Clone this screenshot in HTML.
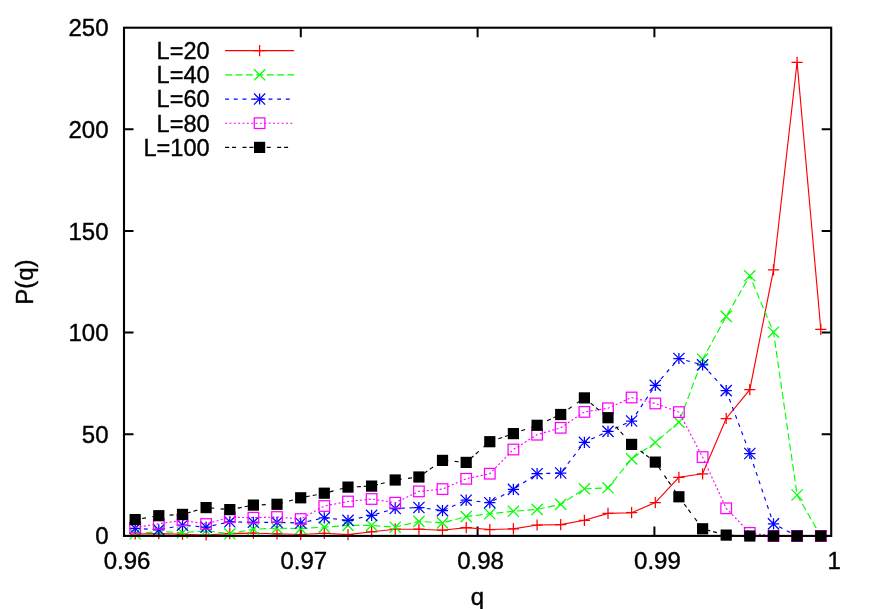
<!DOCTYPE html>
<html><head><meta charset="utf-8"><title>P(q)</title>
<style>
html,body{margin:0;padding:0;background:#fff;}
body{width:872px;height:609px;overflow:hidden;}
svg{display:block;}
text{font-family:"Liberation Sans",sans-serif;font-size:24.5px;fill:#000;stroke:#000;stroke-width:0.4px;}
</style></head><body>
<svg style="will-change:transform" width="872" height="609" viewBox="0 0 872 609">
<rect width="872" height="609" fill="#fff"/>

<g fill="none" stroke="#000" stroke-width="2">
<path d="M300.8,535.9v-9.5M300.8,27.7v9.5"/>
<path d="M477.6,535.9v-9.5M477.6,27.7v9.5"/>
<path d="M654.4,535.9v-9.5M654.4,27.7v9.5"/>
<path d="M124.0,434.3h9.5M831.2,434.3h-9.5"/>
<path d="M124.0,332.6h9.5M831.2,332.6h-9.5"/>
<path d="M124.0,231.0h9.5M831.2,231.0h-9.5"/>
<path d="M124.0,129.3h9.5M831.2,129.3h-9.5"/>
</g>
<g fill="none" stroke-width="1.15">
<polyline points="135.2,534.0 158.8,533.6 182.5,534.2 206.1,535.0 229.8,533.6 253.4,533.2 277.0,533.8 300.7,534.5 324.3,533.3 348.0,534.6 371.6,531.8 395.2,529.2 418.9,529.2 442.5,530.2 466.2,527.7 489.8,529.5 513.4,528.9 537.1,525.0 560.7,524.6 584.4,520.3 608.0,513.4 631.6,512.7 655.3,502.6 678.9,477.3 702.6,473.8 726.2,418.5 749.8,389.7 773.5,269.8 797.1,62.3 820.8,329.3" stroke="#ff0000"/>
<path d="M129.6,534.0H140.8M135.2,528.4V539.6" stroke="#ff0000" stroke-width="1.25"/>
<path d="M153.2,533.6H164.4M158.8,528.0V539.2" stroke="#ff0000" stroke-width="1.25"/>
<path d="M176.9,534.2H188.1M182.5,528.6V539.8" stroke="#ff0000" stroke-width="1.25"/>
<path d="M200.5,535.0H211.7M206.1,529.4V540.6" stroke="#ff0000" stroke-width="1.25"/>
<path d="M224.2,533.6H235.4M229.8,528.0V539.2" stroke="#ff0000" stroke-width="1.25"/>
<path d="M247.8,533.2H259.0M253.4,527.6V538.8" stroke="#ff0000" stroke-width="1.25"/>
<path d="M271.4,533.8H282.6M277.0,528.2V539.4" stroke="#ff0000" stroke-width="1.25"/>
<path d="M295.1,534.5H306.3M300.7,528.9V540.1" stroke="#ff0000" stroke-width="1.25"/>
<path d="M318.7,533.3H329.9M324.3,527.7V538.9" stroke="#ff0000" stroke-width="1.25"/>
<path d="M342.4,534.6H353.6M348.0,529.0V540.2" stroke="#ff0000" stroke-width="1.25"/>
<path d="M366.0,531.8H377.2M371.6,526.2V537.4" stroke="#ff0000" stroke-width="1.25"/>
<path d="M389.6,529.2H400.8M395.2,523.6V534.8" stroke="#ff0000" stroke-width="1.25"/>
<path d="M413.3,529.2H424.5M418.9,523.6V534.8" stroke="#ff0000" stroke-width="1.25"/>
<path d="M436.9,530.2H448.1M442.5,524.6V535.8" stroke="#ff0000" stroke-width="1.25"/>
<path d="M460.6,527.7H471.8M466.2,522.1V533.3" stroke="#ff0000" stroke-width="1.25"/>
<path d="M484.2,529.5H495.4M489.8,523.9V535.1" stroke="#ff0000" stroke-width="1.25"/>
<path d="M507.8,528.9H519.0M513.4,523.3V534.5" stroke="#ff0000" stroke-width="1.25"/>
<path d="M531.5,525.0H542.7M537.1,519.4V530.6" stroke="#ff0000" stroke-width="1.25"/>
<path d="M555.1,524.6H566.3M560.7,519.0V530.2" stroke="#ff0000" stroke-width="1.25"/>
<path d="M578.8,520.3H590.0M584.4,514.7V525.9" stroke="#ff0000" stroke-width="1.25"/>
<path d="M602.4,513.4H613.6M608.0,507.8V519.0" stroke="#ff0000" stroke-width="1.25"/>
<path d="M626.0,512.7H637.2M631.6,507.1V518.3" stroke="#ff0000" stroke-width="1.25"/>
<path d="M649.7,502.6H660.9M655.3,497.0V508.2" stroke="#ff0000" stroke-width="1.25"/>
<path d="M673.3,477.3H684.5M678.9,471.7V482.9" stroke="#ff0000" stroke-width="1.25"/>
<path d="M697.0,473.8H708.2M702.6,468.2V479.4" stroke="#ff0000" stroke-width="1.25"/>
<path d="M720.6,418.5H731.8M726.2,412.9V424.1" stroke="#ff0000" stroke-width="1.25"/>
<path d="M744.2,389.7H755.4M749.8,384.1V395.3" stroke="#ff0000" stroke-width="1.25"/>
<path d="M767.9,269.8H779.1M773.5,264.2V275.4" stroke="#ff0000" stroke-width="1.25"/>
<path d="M791.5,62.3H802.7M797.1,56.7V67.9" stroke="#ff0000" stroke-width="1.25"/>
<path d="M815.2,329.3H826.4M820.8,323.7V334.9" stroke="#ff0000" stroke-width="1.25"/>
<polyline points="135.2,533.8 158.8,531.5 182.5,532.8 206.1,530.7 229.8,533.8 253.4,529.2 277.0,528.2 300.7,528.6 324.3,527.1 348.0,525.4 371.6,525.4 395.2,527.2 418.9,521.4 442.5,522.9 466.2,516.6 489.8,513.8 513.4,511.3 537.1,509.4 560.7,504.4 584.4,488.8 608.0,487.8 631.6,458.9 655.3,442.5 678.9,422.2 702.6,359.2 726.2,316.4 749.8,275.8 773.5,332.2 797.1,495.0 820.8,536.0" stroke="#00ff00" stroke-dasharray="7,3.4"/>
<path d="M129.6,528.2L140.8,539.4M129.6,539.4L140.8,528.2" stroke="#00ff00" stroke-width="1.25"/>
<path d="M153.2,525.9L164.4,537.1M153.2,537.1L164.4,525.9" stroke="#00ff00" stroke-width="1.25"/>
<path d="M176.9,527.2L188.1,538.4M176.9,538.4L188.1,527.2" stroke="#00ff00" stroke-width="1.25"/>
<path d="M200.5,525.1L211.7,536.3M200.5,536.3L211.7,525.1" stroke="#00ff00" stroke-width="1.25"/>
<path d="M224.2,528.2L235.4,539.4M224.2,539.4L235.4,528.2" stroke="#00ff00" stroke-width="1.25"/>
<path d="M247.8,523.6L259.0,534.8M247.8,534.8L259.0,523.6" stroke="#00ff00" stroke-width="1.25"/>
<path d="M271.4,522.6L282.6,533.8M271.4,533.8L282.6,522.6" stroke="#00ff00" stroke-width="1.25"/>
<path d="M295.1,523.0L306.3,534.2M295.1,534.2L306.3,523.0" stroke="#00ff00" stroke-width="1.25"/>
<path d="M318.7,521.5L329.9,532.7M318.7,532.7L329.9,521.5" stroke="#00ff00" stroke-width="1.25"/>
<path d="M342.4,519.8L353.6,531.0M342.4,531.0L353.6,519.8" stroke="#00ff00" stroke-width="1.25"/>
<path d="M366.0,519.8L377.2,531.0M366.0,531.0L377.2,519.8" stroke="#00ff00" stroke-width="1.25"/>
<path d="M389.6,521.6L400.8,532.8M389.6,532.8L400.8,521.6" stroke="#00ff00" stroke-width="1.25"/>
<path d="M413.3,515.8L424.5,527.0M413.3,527.0L424.5,515.8" stroke="#00ff00" stroke-width="1.25"/>
<path d="M436.9,517.3L448.1,528.5M436.9,528.5L448.1,517.3" stroke="#00ff00" stroke-width="1.25"/>
<path d="M460.6,511.0L471.8,522.2M460.6,522.2L471.8,511.0" stroke="#00ff00" stroke-width="1.25"/>
<path d="M484.2,508.2L495.4,519.4M484.2,519.4L495.4,508.2" stroke="#00ff00" stroke-width="1.25"/>
<path d="M507.8,505.7L519.0,516.9M507.8,516.9L519.0,505.7" stroke="#00ff00" stroke-width="1.25"/>
<path d="M531.5,503.8L542.7,515.0M531.5,515.0L542.7,503.8" stroke="#00ff00" stroke-width="1.25"/>
<path d="M555.1,498.8L566.3,510.0M555.1,510.0L566.3,498.8" stroke="#00ff00" stroke-width="1.25"/>
<path d="M578.8,483.2L590.0,494.4M578.8,494.4L590.0,483.2" stroke="#00ff00" stroke-width="1.25"/>
<path d="M602.4,482.2L613.6,493.4M602.4,493.4L613.6,482.2" stroke="#00ff00" stroke-width="1.25"/>
<path d="M626.0,453.3L637.2,464.5M626.0,464.5L637.2,453.3" stroke="#00ff00" stroke-width="1.25"/>
<path d="M649.7,436.9L660.9,448.1M649.7,448.1L660.9,436.9" stroke="#00ff00" stroke-width="1.25"/>
<path d="M673.3,416.6L684.5,427.8M673.3,427.8L684.5,416.6" stroke="#00ff00" stroke-width="1.25"/>
<path d="M697.0,353.6L708.2,364.8M697.0,364.8L708.2,353.6" stroke="#00ff00" stroke-width="1.25"/>
<path d="M720.6,310.8L731.8,322.0M720.6,322.0L731.8,310.8" stroke="#00ff00" stroke-width="1.25"/>
<path d="M744.2,270.2L755.4,281.4M744.2,281.4L755.4,270.2" stroke="#00ff00" stroke-width="1.25"/>
<path d="M767.9,326.6L779.1,337.8M767.9,337.8L779.1,326.6" stroke="#00ff00" stroke-width="1.25"/>
<path d="M791.5,489.4L802.7,500.6M791.5,500.6L802.7,489.4" stroke="#00ff00" stroke-width="1.25"/>
<path d="M815.2,530.4L826.4,541.6M815.2,541.6L826.4,530.4" stroke="#00ff00" stroke-width="1.25"/>
<polyline points="135.2,528.3 158.8,529.8 182.5,525.2 206.1,527.1 229.8,521.8 253.4,522.3 277.0,522.3 300.7,523.0 324.3,517.8 348.0,520.4 371.6,515.4 395.2,508.5 418.9,507.5 442.5,510.6 466.2,500.2 489.8,502.7 513.4,489.4 537.1,473.7 560.7,473.0 584.4,442.3 608.0,431.4 631.6,421.0 655.3,385.4 678.9,358.5 702.6,364.9 726.2,390.6 749.8,453.5 773.5,523.9 797.1,536.0 820.8,536.0" stroke="#0000ff" stroke-dasharray="3.9,4.78"/>
<path d="M129.6,528.3H140.8M135.2,522.7V533.9" stroke="#0000ff" stroke-width="1.25"/><path d="M129.6,522.7L140.8,533.9M129.6,533.9L140.8,522.7" stroke="#0000ff" stroke-width="1.25"/>
<path d="M153.2,529.8H164.4M158.8,524.2V535.4" stroke="#0000ff" stroke-width="1.25"/><path d="M153.2,524.2L164.4,535.4M153.2,535.4L164.4,524.2" stroke="#0000ff" stroke-width="1.25"/>
<path d="M176.9,525.2H188.1M182.5,519.6V530.8" stroke="#0000ff" stroke-width="1.25"/><path d="M176.9,519.6L188.1,530.8M176.9,530.8L188.1,519.6" stroke="#0000ff" stroke-width="1.25"/>
<path d="M200.5,527.1H211.7M206.1,521.5V532.7" stroke="#0000ff" stroke-width="1.25"/><path d="M200.5,521.5L211.7,532.7M200.5,532.7L211.7,521.5" stroke="#0000ff" stroke-width="1.25"/>
<path d="M224.2,521.8H235.4M229.8,516.2V527.4" stroke="#0000ff" stroke-width="1.25"/><path d="M224.2,516.2L235.4,527.4M224.2,527.4L235.4,516.2" stroke="#0000ff" stroke-width="1.25"/>
<path d="M247.8,522.3H259.0M253.4,516.7V527.9" stroke="#0000ff" stroke-width="1.25"/><path d="M247.8,516.7L259.0,527.9M247.8,527.9L259.0,516.7" stroke="#0000ff" stroke-width="1.25"/>
<path d="M271.4,522.3H282.6M277.0,516.7V527.9" stroke="#0000ff" stroke-width="1.25"/><path d="M271.4,516.7L282.6,527.9M271.4,527.9L282.6,516.7" stroke="#0000ff" stroke-width="1.25"/>
<path d="M295.1,523.0H306.3M300.7,517.4V528.6" stroke="#0000ff" stroke-width="1.25"/><path d="M295.1,517.4L306.3,528.6M295.1,528.6L306.3,517.4" stroke="#0000ff" stroke-width="1.25"/>
<path d="M318.7,517.8H329.9M324.3,512.2V523.4" stroke="#0000ff" stroke-width="1.25"/><path d="M318.7,512.2L329.9,523.4M318.7,523.4L329.9,512.2" stroke="#0000ff" stroke-width="1.25"/>
<path d="M342.4,520.4H353.6M348.0,514.8V526.0" stroke="#0000ff" stroke-width="1.25"/><path d="M342.4,514.8L353.6,526.0M342.4,526.0L353.6,514.8" stroke="#0000ff" stroke-width="1.25"/>
<path d="M366.0,515.4H377.2M371.6,509.8V521.0" stroke="#0000ff" stroke-width="1.25"/><path d="M366.0,509.8L377.2,521.0M366.0,521.0L377.2,509.8" stroke="#0000ff" stroke-width="1.25"/>
<path d="M389.6,508.5H400.8M395.2,502.9V514.1" stroke="#0000ff" stroke-width="1.25"/><path d="M389.6,502.9L400.8,514.1M389.6,514.1L400.8,502.9" stroke="#0000ff" stroke-width="1.25"/>
<path d="M413.3,507.5H424.5M418.9,501.9V513.1" stroke="#0000ff" stroke-width="1.25"/><path d="M413.3,501.9L424.5,513.1M413.3,513.1L424.5,501.9" stroke="#0000ff" stroke-width="1.25"/>
<path d="M436.9,510.6H448.1M442.5,505.0V516.2" stroke="#0000ff" stroke-width="1.25"/><path d="M436.9,505.0L448.1,516.2M436.9,516.2L448.1,505.0" stroke="#0000ff" stroke-width="1.25"/>
<path d="M460.6,500.2H471.8M466.2,494.6V505.8" stroke="#0000ff" stroke-width="1.25"/><path d="M460.6,494.6L471.8,505.8M460.6,505.8L471.8,494.6" stroke="#0000ff" stroke-width="1.25"/>
<path d="M484.2,502.7H495.4M489.8,497.1V508.3" stroke="#0000ff" stroke-width="1.25"/><path d="M484.2,497.1L495.4,508.3M484.2,508.3L495.4,497.1" stroke="#0000ff" stroke-width="1.25"/>
<path d="M507.8,489.4H519.0M513.4,483.8V495.0" stroke="#0000ff" stroke-width="1.25"/><path d="M507.8,483.8L519.0,495.0M507.8,495.0L519.0,483.8" stroke="#0000ff" stroke-width="1.25"/>
<path d="M531.5,473.7H542.7M537.1,468.1V479.3" stroke="#0000ff" stroke-width="1.25"/><path d="M531.5,468.1L542.7,479.3M531.5,479.3L542.7,468.1" stroke="#0000ff" stroke-width="1.25"/>
<path d="M555.1,473.0H566.3M560.7,467.4V478.6" stroke="#0000ff" stroke-width="1.25"/><path d="M555.1,467.4L566.3,478.6M555.1,478.6L566.3,467.4" stroke="#0000ff" stroke-width="1.25"/>
<path d="M578.8,442.3H590.0M584.4,436.7V447.9" stroke="#0000ff" stroke-width="1.25"/><path d="M578.8,436.7L590.0,447.9M578.8,447.9L590.0,436.7" stroke="#0000ff" stroke-width="1.25"/>
<path d="M602.4,431.4H613.6M608.0,425.8V437.0" stroke="#0000ff" stroke-width="1.25"/><path d="M602.4,425.8L613.6,437.0M602.4,437.0L613.6,425.8" stroke="#0000ff" stroke-width="1.25"/>
<path d="M626.0,421.0H637.2M631.6,415.4V426.6" stroke="#0000ff" stroke-width="1.25"/><path d="M626.0,415.4L637.2,426.6M626.0,426.6L637.2,415.4" stroke="#0000ff" stroke-width="1.25"/>
<path d="M649.7,385.4H660.9M655.3,379.8V391.0" stroke="#0000ff" stroke-width="1.25"/><path d="M649.7,379.8L660.9,391.0M649.7,391.0L660.9,379.8" stroke="#0000ff" stroke-width="1.25"/>
<path d="M673.3,358.5H684.5M678.9,352.9V364.1" stroke="#0000ff" stroke-width="1.25"/><path d="M673.3,352.9L684.5,364.1M673.3,364.1L684.5,352.9" stroke="#0000ff" stroke-width="1.25"/>
<path d="M697.0,364.9H708.2M702.6,359.3V370.5" stroke="#0000ff" stroke-width="1.25"/><path d="M697.0,359.3L708.2,370.5M697.0,370.5L708.2,359.3" stroke="#0000ff" stroke-width="1.25"/>
<path d="M720.6,390.6H731.8M726.2,385.0V396.2" stroke="#0000ff" stroke-width="1.25"/><path d="M720.6,385.0L731.8,396.2M720.6,396.2L731.8,385.0" stroke="#0000ff" stroke-width="1.25"/>
<path d="M744.2,453.5H755.4M749.8,447.9V459.1" stroke="#0000ff" stroke-width="1.25"/><path d="M744.2,447.9L755.4,459.1M744.2,459.1L755.4,447.9" stroke="#0000ff" stroke-width="1.25"/>
<path d="M767.9,523.9H779.1M773.5,518.3V529.5" stroke="#0000ff" stroke-width="1.25"/><path d="M767.9,518.3L779.1,529.5M767.9,529.5L779.1,518.3" stroke="#0000ff" stroke-width="1.25"/>
<path d="M791.5,536.0H802.7M797.1,530.4V541.6" stroke="#0000ff" stroke-width="1.25"/><path d="M791.5,530.4L802.7,541.6M791.5,541.6L802.7,530.4" stroke="#0000ff" stroke-width="1.25"/>
<path d="M815.2,536.0H826.4M820.8,530.4V541.6" stroke="#0000ff" stroke-width="1.25"/><path d="M815.2,530.4L826.4,541.6M815.2,541.6L826.4,530.4" stroke="#0000ff" stroke-width="1.25"/>
<polyline points="135.2,527.5 158.8,523.8 182.5,520.3 206.1,524.0 229.8,517.2 253.4,517.7 277.0,517.0 300.7,519.0 324.3,506.0 348.0,501.5 371.6,499.0 395.2,502.7 418.9,491.4 442.5,489.1 466.2,478.8 489.8,473.7 513.4,449.5 537.1,434.7 560.7,427.8 584.4,411.9 608.0,408.3 631.6,397.5 655.3,403.5 678.9,412.1 702.6,457.1 726.2,508.3 749.8,532.9 773.5,536.0 797.1,536.0 820.8,536.0" stroke="#ff00ff" stroke-dasharray="2.0,2.35"/>
<rect x="129.9" y="522.2" width="10.6" height="10.6" fill="none" stroke="#ff00ff" stroke-width="1.25"/>
<rect x="153.5" y="518.5" width="10.6" height="10.6" fill="none" stroke="#ff00ff" stroke-width="1.25"/>
<rect x="177.2" y="515.0" width="10.6" height="10.6" fill="none" stroke="#ff00ff" stroke-width="1.25"/>
<rect x="200.8" y="518.7" width="10.6" height="10.6" fill="none" stroke="#ff00ff" stroke-width="1.25"/>
<rect x="224.5" y="511.9" width="10.6" height="10.6" fill="none" stroke="#ff00ff" stroke-width="1.25"/>
<rect x="248.1" y="512.4" width="10.6" height="10.6" fill="none" stroke="#ff00ff" stroke-width="1.25"/>
<rect x="271.7" y="511.7" width="10.6" height="10.6" fill="none" stroke="#ff00ff" stroke-width="1.25"/>
<rect x="295.4" y="513.7" width="10.6" height="10.6" fill="none" stroke="#ff00ff" stroke-width="1.25"/>
<rect x="319.0" y="500.7" width="10.6" height="10.6" fill="none" stroke="#ff00ff" stroke-width="1.25"/>
<rect x="342.7" y="496.2" width="10.6" height="10.6" fill="none" stroke="#ff00ff" stroke-width="1.25"/>
<rect x="366.3" y="493.7" width="10.6" height="10.6" fill="none" stroke="#ff00ff" stroke-width="1.25"/>
<rect x="389.9" y="497.4" width="10.6" height="10.6" fill="none" stroke="#ff00ff" stroke-width="1.25"/>
<rect x="413.6" y="486.1" width="10.6" height="10.6" fill="none" stroke="#ff00ff" stroke-width="1.25"/>
<rect x="437.2" y="483.8" width="10.6" height="10.6" fill="none" stroke="#ff00ff" stroke-width="1.25"/>
<rect x="460.9" y="473.5" width="10.6" height="10.6" fill="none" stroke="#ff00ff" stroke-width="1.25"/>
<rect x="484.5" y="468.4" width="10.6" height="10.6" fill="none" stroke="#ff00ff" stroke-width="1.25"/>
<rect x="508.1" y="444.2" width="10.6" height="10.6" fill="none" stroke="#ff00ff" stroke-width="1.25"/>
<rect x="531.8" y="429.4" width="10.6" height="10.6" fill="none" stroke="#ff00ff" stroke-width="1.25"/>
<rect x="555.4" y="422.5" width="10.6" height="10.6" fill="none" stroke="#ff00ff" stroke-width="1.25"/>
<rect x="579.1" y="406.6" width="10.6" height="10.6" fill="none" stroke="#ff00ff" stroke-width="1.25"/>
<rect x="602.7" y="403.0" width="10.6" height="10.6" fill="none" stroke="#ff00ff" stroke-width="1.25"/>
<rect x="626.3" y="392.2" width="10.6" height="10.6" fill="none" stroke="#ff00ff" stroke-width="1.25"/>
<rect x="650.0" y="398.2" width="10.6" height="10.6" fill="none" stroke="#ff00ff" stroke-width="1.25"/>
<rect x="673.6" y="406.8" width="10.6" height="10.6" fill="none" stroke="#ff00ff" stroke-width="1.25"/>
<rect x="697.3" y="451.8" width="10.6" height="10.6" fill="none" stroke="#ff00ff" stroke-width="1.25"/>
<rect x="720.9" y="503.0" width="10.6" height="10.6" fill="none" stroke="#ff00ff" stroke-width="1.25"/>
<rect x="744.5" y="527.6" width="10.6" height="10.6" fill="none" stroke="#ff00ff" stroke-width="1.25"/>
<rect x="768.2" y="530.7" width="10.6" height="10.6" fill="none" stroke="#ff00ff" stroke-width="1.25"/>
<rect x="791.8" y="530.7" width="10.6" height="10.6" fill="none" stroke="#ff00ff" stroke-width="1.25"/>
<rect x="815.5" y="530.7" width="10.6" height="10.6" fill="none" stroke="#ff00ff" stroke-width="1.25"/>
<polyline points="135.2,519.6 158.8,515.7 182.5,514.4 206.1,507.6 229.8,509.6 253.4,505.1 277.0,504.3 300.7,497.8 324.3,493.2 348.0,487.1 371.6,486.1 395.2,480.0 418.9,477.0 442.5,460.4 466.2,462.4 489.8,441.7 513.4,433.6 537.1,425.3 560.7,414.5 584.4,397.9 608.0,417.7 631.6,444.4 655.3,462.1 678.9,496.8 702.6,528.8 726.2,535.1 749.8,536.0 773.5,536.0 797.1,536.0 820.8,536.0" stroke="#000000" stroke-dasharray="4,2.95,4,6.4"/>
<rect x="129.6" y="514.0" width="11.2" height="11.2" fill="#000000" stroke="none"/>
<rect x="153.2" y="510.1" width="11.2" height="11.2" fill="#000000" stroke="none"/>
<rect x="176.9" y="508.8" width="11.2" height="11.2" fill="#000000" stroke="none"/>
<rect x="200.5" y="502.0" width="11.2" height="11.2" fill="#000000" stroke="none"/>
<rect x="224.2" y="504.0" width="11.2" height="11.2" fill="#000000" stroke="none"/>
<rect x="247.8" y="499.5" width="11.2" height="11.2" fill="#000000" stroke="none"/>
<rect x="271.4" y="498.7" width="11.2" height="11.2" fill="#000000" stroke="none"/>
<rect x="295.1" y="492.2" width="11.2" height="11.2" fill="#000000" stroke="none"/>
<rect x="318.7" y="487.6" width="11.2" height="11.2" fill="#000000" stroke="none"/>
<rect x="342.4" y="481.5" width="11.2" height="11.2" fill="#000000" stroke="none"/>
<rect x="366.0" y="480.5" width="11.2" height="11.2" fill="#000000" stroke="none"/>
<rect x="389.6" y="474.4" width="11.2" height="11.2" fill="#000000" stroke="none"/>
<rect x="413.3" y="471.4" width="11.2" height="11.2" fill="#000000" stroke="none"/>
<rect x="436.9" y="454.8" width="11.2" height="11.2" fill="#000000" stroke="none"/>
<rect x="460.6" y="456.8" width="11.2" height="11.2" fill="#000000" stroke="none"/>
<rect x="484.2" y="436.1" width="11.2" height="11.2" fill="#000000" stroke="none"/>
<rect x="507.8" y="428.0" width="11.2" height="11.2" fill="#000000" stroke="none"/>
<rect x="531.5" y="419.7" width="11.2" height="11.2" fill="#000000" stroke="none"/>
<rect x="555.1" y="408.9" width="11.2" height="11.2" fill="#000000" stroke="none"/>
<rect x="578.8" y="392.3" width="11.2" height="11.2" fill="#000000" stroke="none"/>
<rect x="602.4" y="412.1" width="11.2" height="11.2" fill="#000000" stroke="none"/>
<rect x="626.0" y="438.8" width="11.2" height="11.2" fill="#000000" stroke="none"/>
<rect x="649.7" y="456.5" width="11.2" height="11.2" fill="#000000" stroke="none"/>
<rect x="673.3" y="491.2" width="11.2" height="11.2" fill="#000000" stroke="none"/>
<rect x="697.0" y="523.2" width="11.2" height="11.2" fill="#000000" stroke="none"/>
<rect x="720.6" y="529.5" width="11.2" height="11.2" fill="#000000" stroke="none"/>
<rect x="744.2" y="530.4" width="11.2" height="11.2" fill="#000000" stroke="none"/>
<rect x="767.9" y="530.4" width="11.2" height="11.2" fill="#000000" stroke="none"/>
<rect x="791.5" y="530.4" width="11.2" height="11.2" fill="#000000" stroke="none"/>
<rect x="815.2" y="530.4" width="11.2" height="11.2" fill="#000000" stroke="none"/>
</g>
<g fill="none" stroke-width="1.15">
<path d="M225.1,50.6H294.2" stroke="#ff0000"/>
<path d="M254.0,50.6H265.2M259.6,45.0V56.2" stroke="#ff0000" stroke-width="1.25"/>
<path d="M225.1,74.85H294.2" stroke="#00ff00" stroke-dasharray="7,3.4"/>
<path d="M254.0,69.2L265.2,80.4M254.0,80.4L265.2,69.2" stroke="#00ff00" stroke-width="1.25"/>
<path d="M225.1,99.05H294.2" stroke="#0000ff" stroke-dasharray="3.9,4.78"/>
<path d="M254.0,99.0H265.2M259.6,93.5V104.6" stroke="#0000ff" stroke-width="1.25"/><path d="M254.0,93.5L265.2,104.6M254.0,104.6L265.2,93.5" stroke="#0000ff" stroke-width="1.25"/>
<path d="M225.1,123.2H294.2" stroke="#ff00ff" stroke-dasharray="2.0,2.35"/>
<rect x="254.3" y="117.9" width="10.6" height="10.6" fill="none" stroke="#ff00ff" stroke-width="1.25"/>
<path d="M225.1,147.4H294.2" stroke="#000000" stroke-dasharray="4,2.95,4,6.4"/>
<rect x="254.0" y="141.8" width="11.2" height="11.2" fill="#000000" stroke="none"/>
</g>
<text transform="translate(209.6,58.9) scale(0.962,1)" text-anchor="end">L=20</text>
<text transform="translate(209.6,83.1) scale(0.962,1)" text-anchor="end">L=40</text>
<text transform="translate(209.6,107.3) scale(0.962,1)" text-anchor="end">L=60</text>
<text transform="translate(209.6,131.5) scale(0.962,1)" text-anchor="end">L=80</text>
<text transform="translate(209.6,155.7) scale(0.962,1)" text-anchor="end">L=100</text>
<rect x="124.0" y="27.7" width="707.2" height="508.2" fill="none" stroke="#000" stroke-width="2.1"/>
<text transform="translate(108.5,544.4) scale(0.98,1)" text-anchor="end">0</text>
<text transform="translate(108.5,442.8) scale(0.98,1)" text-anchor="end">50</text>
<text transform="translate(108.5,341.1) scale(0.98,1)" text-anchor="end">100</text>
<text transform="translate(108.5,239.5) scale(0.98,1)" text-anchor="end">150</text>
<text transform="translate(108.5,137.8) scale(0.98,1)" text-anchor="end">200</text>
<text transform="translate(108.5,36.2) scale(0.98,1)" text-anchor="end">250</text>
<text transform="translate(127.0,569.0) scale(0.98,1)" text-anchor="middle">0.96</text>
<text transform="translate(303.8,569.0) scale(0.98,1)" text-anchor="middle">0.97</text>
<text transform="translate(480.6,569.0) scale(0.98,1)" text-anchor="middle">0.98</text>
<text transform="translate(657.4,569.0) scale(0.98,1)" text-anchor="middle">0.99</text>
<text transform="translate(834.2,569.0) scale(0.98,1)" text-anchor="middle">1</text>
<text transform="translate(477.5,604.5) scale(0.98,1)" text-anchor="middle">q</text>
<text transform="translate(32.8,282.1) rotate(-90) scale(0.98,1)" text-anchor="middle">P(q)</text>
</svg></body></html>
